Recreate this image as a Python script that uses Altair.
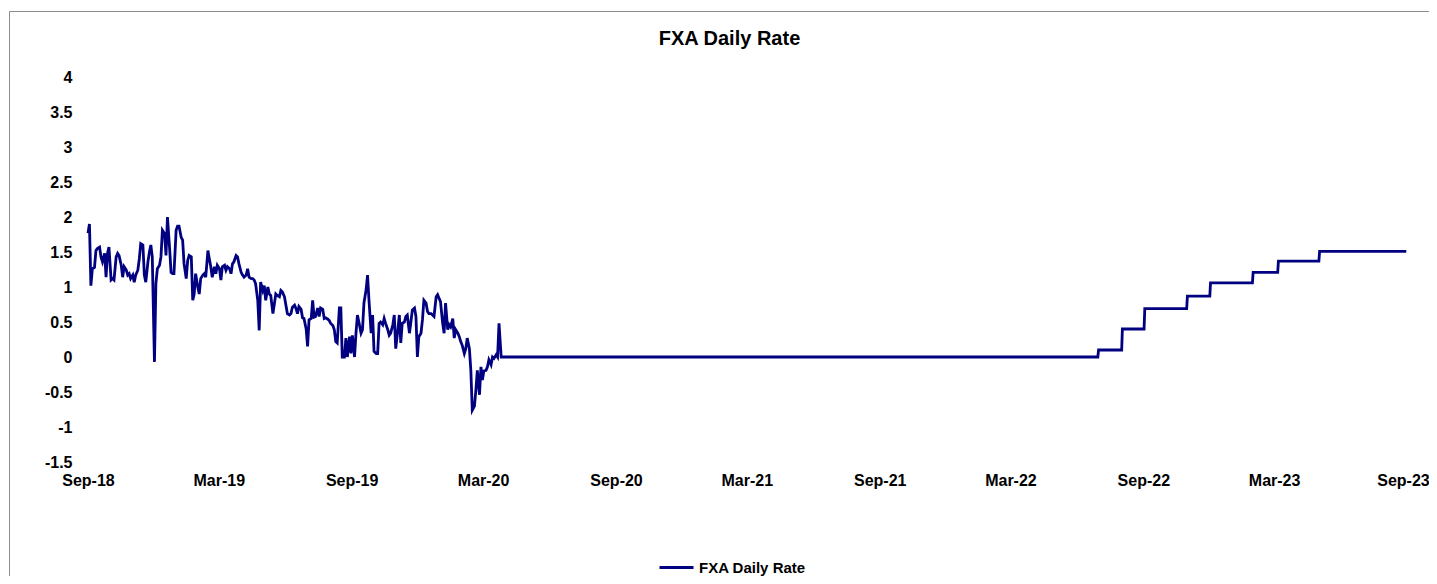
import altair as alt
import pandas as pd

series_name = "FXA Daily Rate"

# Noisy period at a regular spacing (about every 2.3 days)
noisy_start = "2018-09-01"
noisy_end = "2020-03-26"
noisy_values = [
    1.77, 1.90, 1.02, 1.26, 1.28, 1.52, 1.55, 1.57, 1.43, 1.36,
    1.48, 1.14, 1.48, 1.57, 1.10, 1.12, 1.10, 1.43, 1.48, 1.45,
    1.31, 1.14, 1.29, 1.24, 1.17, 1.19, 1.12, 1.17, 1.07, 1.17,
    1.24, 1.40, 1.62, 1.60, 1.17, 1.07, 1.36, 1.50, 1.60, 1.43,
    -0.07, 1.05, 1.26, 1.31, 1.43, 1.81, 1.76, 1.45, 2.00, 1.55,
    1.21, 1.19, 1.19, 1.81, 1.87, 1.87, 1.71, 1.67, 1.33, 1.12,
    1.38, 1.45, 1.43, 0.81, 0.90, 1.19, 1.00, 0.90, 1.12, 1.17,
    1.19, 1.14, 1.52, 1.40, 1.29, 1.14, 1.29, 1.19, 1.31, 1.26,
    1.10, 1.29, 1.31, 1.24, 1.29, 1.26, 1.19, 1.33, 1.36, 1.45,
    1.43, 1.33, 1.21, 1.17, 1.14, 1.17, 1.26, 1.14, 1.12, 1.12,
    1.10, 1.05, 0.81, 0.38, 1.07, 0.95, 1.02, 0.81, 1.00, 0.90,
    0.88, 0.62, 0.76, 0.90, 0.88, 0.86, 0.95, 0.93, 0.86, 0.74,
    0.62, 0.60, 0.62, 0.71, 0.74, 0.69, 0.62, 0.72, 0.68, 0.56,
    0.55, 0.40, 0.15, 0.53, 0.55, 0.81, 0.57, 0.58, 0.70, 0.58,
    0.70, 0.68, 0.55, 0.56, 0.54, 0.52, 0.48, 0.45, 0.39, 0.22,
    0.20, 0.70, 0.70, 0.00, 0.00, 0.27, 0.00, 0.29, 0.05, 0.31,
    0.00, 0.34, 0.60, 0.50, 0.34, 0.39, 0.77, 0.96, 1.17, 0.81,
    0.34, 0.60, 0.08, 0.05, 0.05, 0.48, 0.50, 0.46, 0.55, 0.48,
    0.39, 0.31, 0.34, 0.46, 0.60, 0.12, 0.39, 0.60, 0.20, 0.48,
    0.50, 0.58, 0.60, 0.34, 0.50, 0.67, 0.70, 0.58, 0.00, 0.29,
    0.34, 0.53, 0.81, 0.77, 0.65, 0.62, 0.62, 0.60, 0.58, 0.86,
    0.89, 0.84, 0.79, 0.48, 0.34, 0.77, 0.39, 0.46, 0.43, 0.55,
    0.27, 0.39, 0.34, 0.29, 0.22, 0.17, 0.05, 0.12, 0.27, 0.12,
    -0.19, -0.76, -0.70, -0.47, -0.19, -0.54, -0.14, -0.33, -0.20, -0.19,
    -0.14, -0.04, -0.11, 0.00, -0.02, 0.03, 0.00, 0.48, 0.00,
]

# Flat zero period then step increases
step_dates = ["2022-07-01", "2022-08-03", "2022-09-03", "2022-11-01",
              "2022-12-03", "2023-01-31", "2023-03-07", "2023-05-03"]
step_levels = [0.10, 0.40, 0.69, 0.87, 1.06, 1.21, 1.37, 1.51]
series_end = "2023-08-31"

tick_dates = ["2018-09-01", "2019-03-01", "2019-09-01", "2020-03-01",
              "2020-09-01", "2021-03-01", "2021-09-01", "2022-03-01",
              "2022-09-01", "2023-03-01", "2023-09-01"]
y_ticks = [-1.5, -1, -0.5, 0, 0.5, 1, 1.5, 2, 2.5, 3, 3.5, 4]

# ---- build table ----
dates = list(pd.date_range(noisy_start, noisy_end,
                           periods=len(noisy_values)).strftime("%Y-%m-%d"))
vals = list(noisy_values)
prev = 0.0
for d, lvl in zip(step_dates, step_levels):
    dd = pd.Timestamp(d)
    dates.append((dd - pd.Timedelta(days=1)).strftime("%Y-%m-%d"))
    vals.append(prev)
    dates.append(d)
    vals.append(lvl)
    prev = lvl
dates.append(series_end)
vals.append(prev)
df = pd.DataFrame({"date": dates, "rate": vals, "series": series_name})


def dt(s):
    y, m, d = map(int, s.split("-"))
    return alt.DateTime(year=y, month=m, date=d, utc=True)


FONT = "Liberation Sans"

line = alt.Chart(df).mark_line(strokeWidth=2.8, interpolate="linear").encode(
    x=alt.X("date:T",
            scale=alt.Scale(type="utc", domain=[dt(tick_dates[0]), dt(tick_dates[-1])], nice=False),
            axis=alt.Axis(values=[dt(t) for t in tick_dates],
                          labelExpr="utcFormat(datum.value, '%b-%y')",
                          labelOffset={"condition": {"test": "datum.index == 1", "value": -4},
                                       "value": 0},
                          domain=False, ticks=False, tickSize=0, grid=False, title=None,
                          labelFont=FONT, labelFontSize=16, labelFontWeight="bold",
                          labelColor="black", labelPadding=10, labelFlush=False,
                          labelOverlap=False)),
    y=alt.Y("rate:Q",
            scale=alt.Scale(domain=[-1.5, 4], nice=False, zero=False),
            axis=alt.Axis(values=y_ticks, labelExpr="'' + datum.value",
                          domain=False, ticks=False, tickSize=0, grid=False, title=None,
                          labelFont=FONT, labelFontSize=16, labelFontWeight="bold",
                          labelColor="black", labelPadding=16, labelFlush=False,
                          labelOverlap=False)),
    color=alt.Color("series:N",
                    scale=alt.Scale(domain=[series_name], range=["#000080"]),
                    legend=alt.Legend(orient="none", legendX=570, legendY=472, title=None,
                                      symbolType="stroke", symbolStrokeWidth=3,
                                      symbolSize=1156, labelFont=FONT, labelFontSize=15,
                                      labelFontWeight="bold", labelColor="black",
                                      labelOffset=4)),
)

frame = alt.Chart(pd.DataFrame({"frame": [1]})).mark_rect(
    fill="transparent", stroke="#8c8c8c", strokeWidth=1
).encode(x=alt.value(-78.5), x2=alt.value(1400), y=alt.value(-65.5), y2=alt.value(560))

chart = alt.layer(frame, line).properties(
    width=1319, height=385,
    autosize=alt.AutoSizeParams(type="none"),
    padding={"left": 80, "top": 69, "right": 22, "bottom": 114},
    title=alt.Title(series_name, fontSize=20, fontWeight="bold", font=FONT, color="black",
                    anchor="middle", frame="group", dx=-18, offset=-54,
                    baseline="alphabetic"),
).configure_view(stroke=None)

chart.save("out.html", embed_options={"renderer": "svg", "actions": False})
